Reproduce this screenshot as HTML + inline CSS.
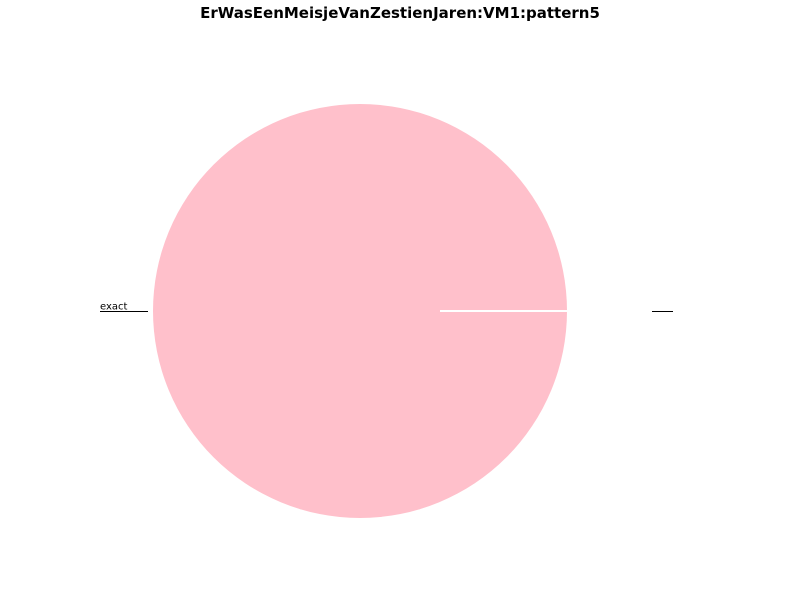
<!DOCTYPE html>
<html><head><meta charset="utf-8"><style>
body{margin:0;background:#fff;}
svg{display:block;font-family:"DejaVu Sans","Liberation Sans",sans-serif;}
</style></head><body>
<svg id="chart" width="800" height="600">
<text x="400" y="18" text-anchor="middle" font-size="15" font-weight="bold">ErWasEenMeisjeVanZestienJaren:VM1:pattern5</text>
</svg>
<script>
const labels = ["exact", ""];
const values = [1, 0];
const colors = ["#ffc0cb", "#ffc0cb"];
const svg = document.getElementById('chart');
const NS = 'http://www.w3.org/2000/svg';
const cx = 360, cy = 311, r = 207;
const total = values.reduce((a, b) => a + b, 0);
let ang = 0;
const edges = [];
values.forEach((v, i) => {
  const frac = v / total;
  const a0 = ang, a1 = ang + frac * 2 * Math.PI;
  edges.push(a0);
  let el;
  if (frac >= 0.9999) {
    el = document.createElementNS(NS, 'circle');
    el.setAttribute('cx', cx); el.setAttribute('cy', cy); el.setAttribute('r', r);
  } else {
    el = document.createElementNS(NS, 'path');
    const x0 = cx + r * Math.cos(a0), y0 = cy - r * Math.sin(a0);
    const x1 = cx + r * Math.cos(a1), y1 = cy - r * Math.sin(a1);
    const large = (a1 - a0) > Math.PI ? 1 : 0;
    el.setAttribute('d', `M${cx},${cy} L${x0},${y0} A${r},${r} 0 ${large} 0 ${x1},${y1} Z`);
  }
  el.setAttribute('fill', colors[i]);
  
  
  svg.appendChild(el);
  const mid = (a0 + a1) / 2;
  const right = Math.cos(mid) >= 0;
  const ly = Math.round(cy - r * 1.4 * Math.sin(mid)) + 0.5;
  const lxs = right ? 652 : 100;
  const line = document.createElementNS(NS, 'line');
  line.setAttribute('x1', lxs); line.setAttribute('x2', lxs + (labels[i] ? 48 : 21));
  line.setAttribute('y1', ly); line.setAttribute('y2', ly);
  line.setAttribute('stroke', '#000'); line.setAttribute('stroke-width', '1');
  
  
  svg.appendChild(line);
  if (labels[i]) {
    const t = document.createElementNS(NS, 'text');
    t.setAttribute('x', lxs); t.setAttribute('y', ly - 2);
    t.setAttribute('font-size', '10');
    t.textContent = labels[i];
    
    
    svg.appendChild(t);
  }
  ang = a1;
});
edges.forEach(a => {
  const l = document.createElementNS(NS, 'line');
  l.setAttribute('x1', cx + 80 * Math.cos(a)); l.setAttribute('y1', cy - 80 * Math.sin(a));
  l.setAttribute('x2', cx + r * Math.cos(a)); l.setAttribute('y2', cy - r * Math.sin(a));
  l.setAttribute('stroke', '#fff'); l.setAttribute('stroke-width', '2');
  
  
  svg.appendChild(l);
});
</script>
</body></html>
